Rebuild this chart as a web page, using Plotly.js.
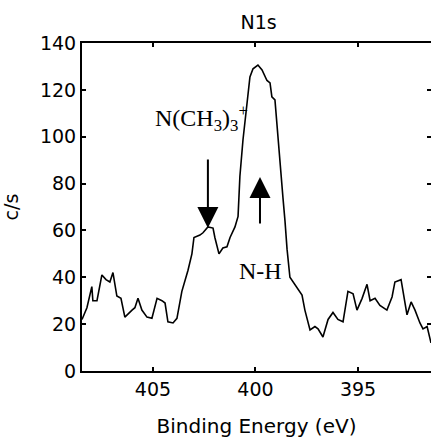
<!DOCTYPE html>
<html>
<head>
<meta charset="utf-8">
<script src="https://cdn.plot.ly/plotly-3.0.1.min.js"></script>
<style>
  html, body { margin: 0; padding: 0; background: #fff; }
  #chart { width: 431px; height: 441px; }
</style>
</head>
<body>
<div id="chart"></div>
<script>
// Binding energy (eV) and counts (c/s)
const bindingEnergy = [
  408.46, 408.22, 407.98, 407.93, 407.73, 407.49, 407.29, 407.10, 406.95, 406.76,
  406.56, 406.37, 406.02, 405.88, 405.73, 405.54, 405.29, 405.05, 404.80, 404.56,
  404.41, 404.27, 404.02, 403.83, 403.59, 403.29, 403.10, 403.00, 402.71, 402.56,
  402.32, 402.07, 401.98, 401.78, 401.59, 401.39, 401.24, 401.00, 400.85, 400.76,
  400.61, 400.41, 400.27, 400.12, 399.88, 399.68, 399.44, 399.29, 399.20, 399.05,
  398.95, 398.80, 398.66, 398.56, 398.46, 398.32, 398.17, 397.98, 397.73, 397.59,
  397.34, 397.10, 396.95, 396.71, 396.46, 396.22, 395.98, 395.73, 395.49, 395.24,
  395.05, 394.80, 394.56, 394.41, 394.17, 393.93, 393.59, 393.34, 393.20, 392.90,
  392.61, 392.41, 392.22, 391.98, 391.83, 391.63, 391.49, 391.44
];
const counts = [
  22, 27, 36, 30, 30, 41, 39, 38, 42, 32,
  31, 23, 26, 27, 31, 26, 23, 22.5, 31, 30,
  29, 21, 20.5, 22.5, 34, 43, 50, 57, 58, 59,
  61.5, 61, 57, 50, 52.5, 53, 57, 61.5, 66, 83,
  98.6, 115.7, 125.5, 129, 130.6, 128.5, 124, 123, 117, 115.7,
  104, 90, 74, 64, 52, 40, 38, 35.4, 32.4, 26,
  17.5, 19, 18, 14.5, 22, 25, 22, 21, 34, 33,
  26, 31, 37, 30, 31, 28, 26, 31.6, 38, 39,
  24, 29.5, 26, 20.5, 18, 19, 14, 12
];
const xTickVals = [405, 400, 395];
const yTickVals = [0, 20, 40, 60, 80, 100, 120, 140];

const sansFont = 'DejaVu Sans, Liberation Sans, Arial, sans-serif';
const serifFont = 'Liberation Serif, Times New Roman, serif';

const trace = {
  x: bindingEnergy,
  y: counts,
  type: 'scatter',
  mode: 'lines',
  line: { color: '#000', width: 1.6 },
  hoverinfo: 'skip'
};

const layout = {
  width: 431,
  height: 441,
  margin: { l: 82, r: 0, t: 43, b: 70 },
  paper_bgcolor: '#fff',
  plot_bgcolor: '#fff',
  showlegend: false,
  title: {
    text: 'N1s',
    font: { family: sansFont, size: 19, color: '#000' },
    x: 0.6, xref: 'container', xanchor: 'center',
    y: 0.95, yref: 'container', yanchor: 'middle'
  },
  xaxis: {
    range: [408.46, 391.44],
    autorange: false,
    tickvals: xTickVals,
    ticktext: xTickVals.map(String),
    ticks: 'inside', ticklen: 4, tickwidth: 2, tickcolor: '#000',
    showline: true, linecolor: '#000', linewidth: 2, mirror: 'ticks',
    showgrid: false, zeroline: false,
    tickfont: { family: sansFont, size: 19, color: '#000' },
    title: { text: 'Binding Energy (eV)', font: { family: sansFont, size: 20, color: '#000' }, standoff: 20 }
  },
  yaxis: {
    range: [0, 140],
    autorange: false,
    tickvals: yTickVals,
    ticktext: yTickVals.map(String),
    ticks: 'inside', ticklen: 4, tickwidth: 2, tickcolor: '#000',
    showline: true, linecolor: '#000', linewidth: 2, mirror: 'ticks',
    showgrid: false, zeroline: false,
    tickfont: { family: sansFont, size: 19, color: '#000' },
    title: { text: 'c/s', font: { family: sansFont, size: 19, color: '#000' }, standoff: 16 }
  },
  annotations: [
    {
      x: 405.0, y: 108, xref: 'x', yref: 'y',
      text: 'N(CH<sub>3</sub>)<sub>3</sub><sup>+</sup>',
      showarrow: false, xanchor: 'left', yanchor: 'middle',
      font: { family: serifFont, size: 24, color: '#000' }
    },
    {
      x: 400.9, y: 42.7, xref: 'x', yref: 'y',
      text: 'N-H',
      showarrow: false, xanchor: 'left', yanchor: 'middle',
      font: { family: serifFont, size: 24, color: '#000' }
    },
    {
      x: 402.32, y: 61, xref: 'x', yref: 'y',
      text: '', showarrow: true,
      ax: 0, ay: -70,
      arrowhead: 2, arrowwidth: 2, arrowsize: 2.1, arrowcolor: '#000'
    },
    {
      x: 399.78, y: 82.8, xref: 'x', yref: 'y',
      text: '', showarrow: true,
      ax: 0, ay: 48,
      arrowhead: 2, arrowwidth: 2, arrowsize: 2.1, arrowcolor: '#000'
    }
  ]
};

Plotly.newPlot('chart', [trace], layout, { staticPlot: true, displayModeBar: false });
</script>
</body>
</html>
